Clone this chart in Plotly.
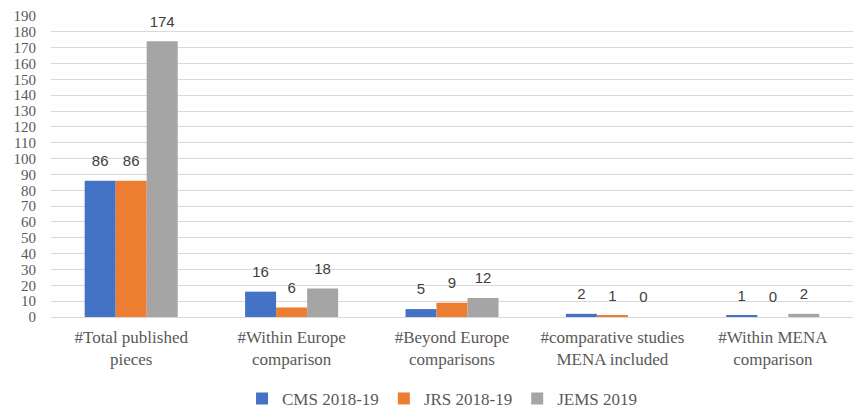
import plotly.graph_objects as go

categories = ["#Total published<br>pieces", "#Within Europe<br>comparison", "#Beyond Europe<br>comparisons",
              "#comparative studies<br>MENA included", "#Within MENA<br>comparison"]
cms = [86, 16, 5, 2, 1]
jrs = [86, 6, 9, 1, 0]
jems = [174, 18, 12, 0, 2]
series = [("CMS 2018-19", cms, "#4472C4"), ("JRS 2018-19", jrs, "#ED7D31"), ("JEMS 2019", jems, "#A5A5A5")]

SERIF = "Liberation Serif, Times New Roman, serif"

fig = go.Figure()
for name, vals, col in series:
    fig.add_trace(go.Bar(x=categories, y=vals, name=name, offsetgroup=name,
                         marker=dict(color=col, line=dict(width=0))))
for name, vals, col in series:
    fig.add_trace(go.Scatter(x=categories, y=vals, offsetgroup=name, mode="markers+text",
                             text=[str(v) for v in vals], textposition="top center",
                             marker=dict(size=16, color="rgba(0,0,0,0)"), showlegend=False,
                             hoverinfo="skip", cliponaxis=False,
                             textfont=dict(family="Liberation Sans, Arial, sans-serif", size=15, color="#404040")))

fig.update_layout(
    width=855, height=410, paper_bgcolor="white", plot_bgcolor="white",
    margin=dict(l=51, r=2, t=16, b=93, autoexpand=False),
    barmode="group", bargap=0.42, bargroupgap=0,
    scattermode="group", scattergap=0.42,
    font=dict(family=SERIF, color="#595959", size=17),
    legend=dict(orientation="h", x=0.517, xanchor="center", xref="container",
                y=0.027, yanchor="middle", yref="container",
                font=dict(family=SERIF, size=17, color="#595959"), traceorder="normal",
                itemwidth=30),
    xaxis=dict(showgrid=False, showline=False, ticks="", automargin=False, ticklabelstandoff=8,
               tickfont=dict(family=SERIF, size=17, color="#595959")),
    yaxis=dict(range=[0, 190], dtick=10, showgrid=True, gridcolor="#D9D9D9", gridwidth=1,
               zeroline=True, zerolinecolor="#D9D9D9", zerolinewidth=1, showline=False,
               automargin=False, ticklabelstandoff=14,
               tickfont=dict(family=SERIF, size=15, color="#595959")),
)
fig.write_html("out.html")
